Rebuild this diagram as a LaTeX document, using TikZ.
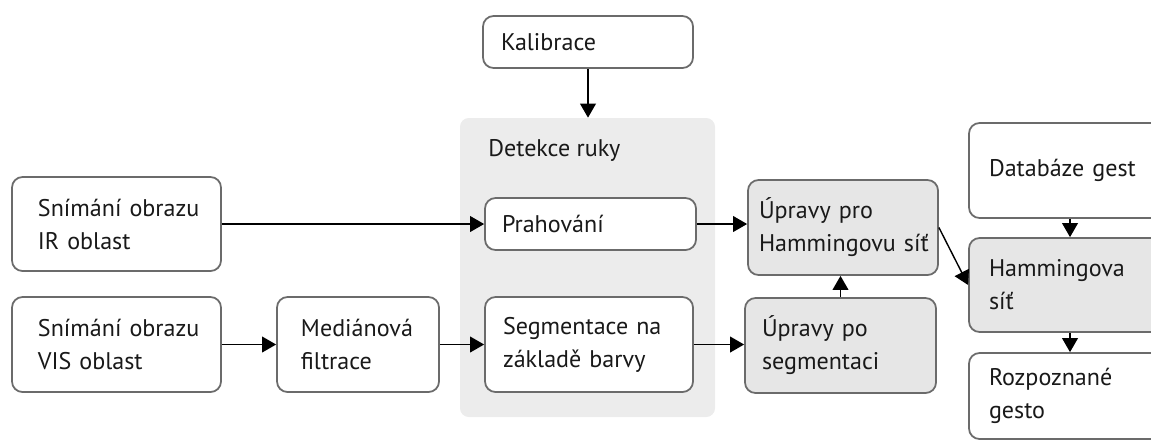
\documentclass[tikz,border=0pt]{standalone}
\usepackage{fontspec}
\setmainfont{PT Sans}
\usetikzlibrary{arrows.meta,positioning}
\definecolor{boxline}{HTML}{6B6B6B}
\definecolor{boxgrey}{HTML}{E6E6E6}
\definecolor{areagrey}{HTML}{ECECEC}

\begin{document}
\begin{tikzpicture}[
    x=0.02cm, y=-0.02cm,
    every node/.style={font=\fontsize{13.7}{18.8}\selectfont, text=black!90},
    box/.style={draw=boxline, line width=1pt, rounded corners=6pt, fill=white, align=left, inner ysep=0pt},
    greybox/.style={box, fill=boxgrey},
    boxdim/.style n args={3}{minimum width=#1*0.02cm, minimum height=#2*0.02cm, inner xsep=#3*0.02cm, text width=#1*0.02cm-#3*0.04cm},
    area/.style={fill=areagrey, rounded corners=5pt, inner sep=0pt},
    arrow/.style={-{Triangle[length=8pt,width=9pt]}, line width=0.8pt}
]
\useasboundingbox (0,0) rectangle (1151,441);
\clip (0,0) rectangle (1151,441);

\node[area, minimum width=255*0.02cm, minimum height=299*0.02cm] (det) at (587.5,267.5) {};
\node[anchor=west, inner sep=0pt] (detlabel) at (488,150) {Detekce ruky};

\node[box, boxdim={210}{52}{18}] (kal) at (588,42) {Kalibrace};
\node[box, boxdim={209}{94}{26}] (ir) at (116.5,224) {Snímání~obrazu\\IR~oblast};
\node[box, boxdim={209}{95}{26}] (vis) at (116.5,344.5) {Snímání~obrazu\\VIS~oblast};
\node[box, boxdim={162}{95}{24}] (med) at (358,344.5) {Mediánová\\filtrace};
\node[box, boxdim={211}{52}{17}] (prah) at (590.5,224) {Prahování};
\node[box, boxdim={208}{95}{18}] (seg) at (589,344.5) {Segmentace~na\\základě~barvy};
\node[greybox, boxdim={190}{95}{11}] (uph) at (843,227.5) {Úpravy~pro\\Hammingovu~síť};
\node[greybox, boxdim={191}{95}{17}] (ups) at (840.5,345.5) {Úpravy~po\\segmentaci};
\node[box, boxdim={202}{95}{20}] (db) at (1070,170.5) {Databáze~gest};
\node[greybox, boxdim={202}{94}{20}] (ham) at (1070,285) {Hammingova\\síť};
\node[box, boxdim={202}{86}{20}] (roz) at (1070,396) {Rozpoznané\\gesto};

\draw[arrow] (kal.south) -- (kal.south |- det.north);
\draw[arrow] (ir) -- (prah);
\draw[arrow] (vis) -- (med);
\draw[arrow] (med) -- (seg);
\draw[arrow] (prah.east) -- (prah.east -| uph.west);
\draw[arrow] (seg.east) -- (seg.east -| ups.west);
\draw[arrow] (ups.north) -- (ups.north |- uph.south);
\draw[arrow] (uph.east) -- (ham.west);
\draw[arrow] (db) -- (ham);
\draw[arrow] (ham) -- (roz);
\end{tikzpicture}
\end{document}
